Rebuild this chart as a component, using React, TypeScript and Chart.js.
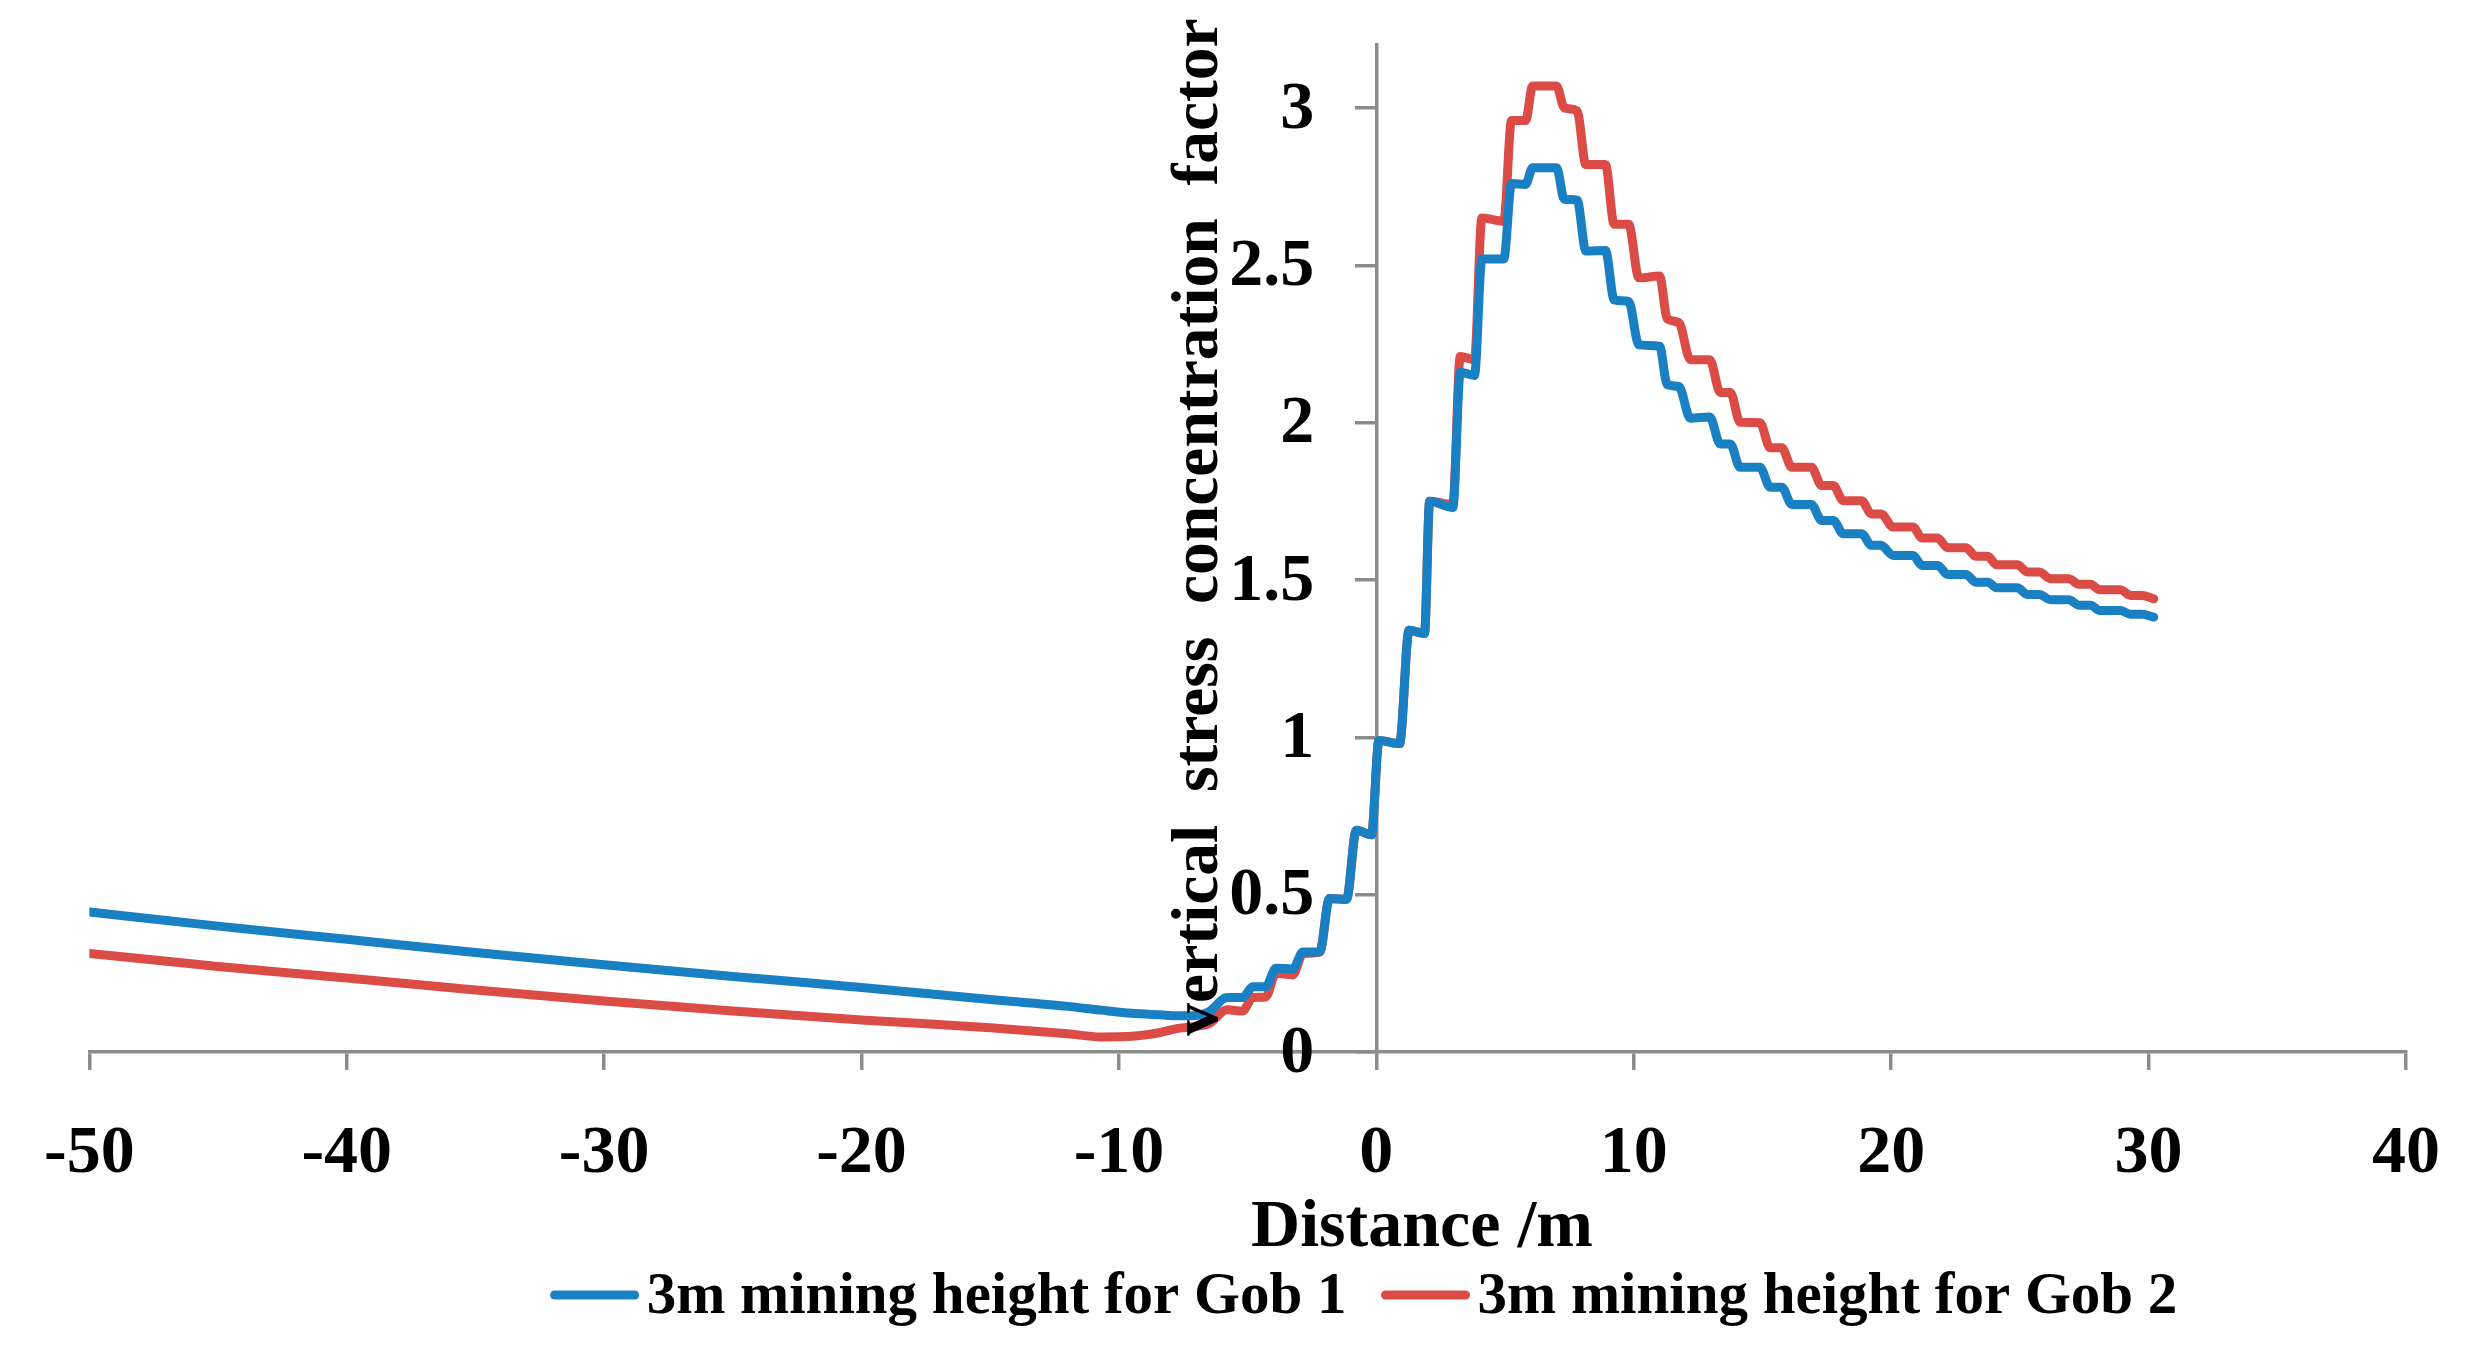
import React, { useEffect, useRef } from "react";
import { Chart, registerables, Plugin } from "chart.js";

Chart.register(...registerables);

// distance from the coal wall, m (shared by both series)
const distance = [
  -50, -45, -40, -35, -30, -25, -20, -15, -12, -10.7, -9.5, -8.4, -7.7, -7.0,
  -6.5, -5.8, -5.2, -4.8, -4.3, -3.9, -3.25, -2.85, -2.2, -1.82, -1.16, -0.78,
  -0.19, 0.1, 0.9, 1.27, 1.87, 2.07, 2.97, 3.26, 3.81, 4.1, 4.95, 5.25, 5.8,
  6.07, 7.0, 7.3, 7.8, 8.14, 8.9, 9.24, 9.8, 10.2, 11.0, 11.3, 11.75, 12.2,
  12.95, 13.36, 13.75, 14.13, 14.9, 15.3, 15.75, 16.14, 16.9, 17.3, 17.75,
  18.14, 18.85, 19.23, 19.6, 20.08, 20.85, 21.2, 21.8, 22.2, 22.9, 23.3,
  23.75, 24.1, 24.9, 25.3, 25.75, 26.2, 26.9, 27.3, 27.75, 28.1, 28.9, 29.3,
  29.75, 30.2,
];

const gob1Stress = [
  0.445, 0.4, 0.358, 0.316, 0.277, 0.24, 0.205, 0.167, 0.145, 0.133, 0.123,
  0.118, 0.115, 0.116, 0.128, 0.173, 0.173, 0.207, 0.207, 0.266, 0.264,
  0.318, 0.318, 0.488, 0.485, 0.705, 0.69, 0.99, 0.98, 1.34, 1.33, 1.75,
  1.73, 2.16, 2.15, 2.52, 2.52, 2.76, 2.757, 2.81, 2.81, 2.71, 2.707, 2.545,
  2.547, 2.39, 2.385, 2.247, 2.243, 2.12, 2.115, 2.014, 2.018, 1.932, 1.932,
  1.858, 1.858, 1.795, 1.795, 1.74, 1.74, 1.689, 1.689, 1.647, 1.647, 1.61,
  1.61, 1.578, 1.578, 1.546, 1.546, 1.517, 1.517, 1.493, 1.493, 1.475,
  1.475, 1.454, 1.454, 1.437, 1.437, 1.42, 1.42, 1.403, 1.403, 1.391, 1.391,
  1.382,
];

const gob2Stress = [
  0.313, 0.272, 0.235, 0.197, 0.162, 0.13, 0.102, 0.077, 0.058, 0.048, 0.05,
  0.062, 0.075, 0.082, 0.09, 0.134, 0.13, 0.173, 0.175, 0.25, 0.245, 0.313,
  0.318, 0.488, 0.485, 0.705, 0.69, 0.99, 0.98, 1.34, 1.33, 1.75, 1.74,
  2.21, 2.2, 2.65, 2.64, 2.96, 2.96, 3.07, 3.07, 3.0, 2.99, 2.82, 2.82,
  2.63, 2.63, 2.46, 2.466, 2.33, 2.318, 2.2, 2.2, 2.096, 2.096, 2.001, 2.0,
  1.92, 1.92, 1.858, 1.858, 1.8, 1.8, 1.752, 1.752, 1.71, 1.71, 1.668, 1.668,
  1.633, 1.633, 1.602, 1.602, 1.575, 1.575, 1.548, 1.548, 1.525, 1.525,
  1.504, 1.504, 1.486, 1.486, 1.469, 1.469, 1.451, 1.451, 1.44,
];

const seriesLabels = ["3m mining height for Gob 1", "3m mining height for Gob 2"];
const seriesColors = ["#1a80c4", "#dc4c47"];
const xTitle = "Distance /m";
const yTitle = "vertical  stress  concentration  factor";

const FONT = '"Liberation Serif", "Times New Roman", serif';
const AXIS_GREY = "#8c8c8c";

const textPlugin: Plugin<"line"> = {
  id: "textPlugin",
  afterDatasetsDraw(chart) {
    const { ctx } = chart;
    const yScale = chart.scales.y;
    const axisX = chart.scales.x.getPixelForValue(0);

    // y tick labels, left of the tick marks (axis sits at x = 0)
    ctx.save();
    ctx.fillStyle = "#000";
    ctx.font = `bold 68px ${FONT}`;
    ctx.textAlign = "right";
    ctx.textBaseline = "middle";
    yScale.ticks.forEach((t) => {
      ctx.fillText(String(t.value), axisX - 62, yScale.getPixelForValue(t.value) + 2);
    });
    ctx.restore();

    // y axis title, reading bottom to top
    ctx.save();
    ctx.fillStyle = "#000";
    ctx.font = `bold 65.5px ${FONT}`;
    ctx.textAlign = "center";
    ctx.textBaseline = "alphabetic";
    ctx.translate(1217, 527);
    ctx.rotate(-Math.PI / 2);
    ctx.fillText(yTitle, 0, 0);
    ctx.restore();

    // x axis title
    ctx.save();
    ctx.fillStyle = "#000";
    ctx.font = `bold 68px ${FONT}`;
    ctx.textAlign = "center";
    ctx.textBaseline = "alphabetic";
    ctx.fillText(xTitle, 1422, 1246);
    ctx.restore();

    // legend
    ctx.save();
    ctx.font = `bold 59px ${FONT}`;
    ctx.textBaseline = "alphabetic";
    ctx.textAlign = "left";
    const lineLen = 88;
    const gap = 8;
    const itemGap = 35;
    const widths = seriesLabels.map((t) => ctx.measureText(t).width);
    const total =
      widths.reduce((a, w) => a + w + lineLen + gap, 0) + itemGap;
    let x = 1364 - total / 2;
    seriesLabels.forEach((label, i) => {
      ctx.strokeStyle = seriesColors[i];
      ctx.lineWidth = 9;
      ctx.lineCap = "round";
      ctx.beginPath();
      ctx.moveTo(x + 4, 1295);
      ctx.lineTo(x + lineLen - 4, 1295);
      ctx.stroke();
      x += lineLen + gap;
      ctx.fillStyle = "#000";
      ctx.fillText(label, x, 1313);
      x += widths[i] + itemGap;
    });
    ctx.restore();
  },
};

export default function App() {
  const canvasRef = useRef<HTMLCanvasElement | null>(null);

  useEffect(() => {
    const ctx = canvasRef.current?.getContext("2d");
    if (!ctx) return;

    const datasets = [gob1Stress, gob2Stress].map((values, i) => ({
      label: seriesLabels[i],
      data: distance.map((d, j) => ({ x: d, y: values[j] })),
      borderColor: seriesColors[i],
      backgroundColor: seriesColors[i],
      borderWidth: 9,
      pointRadius: 0,
      cubicInterpolationMode: "monotone" as const,
      borderJoinStyle: "round" as const,
      borderCapStyle: "round" as const,
    }));

    const chart = new Chart(ctx, {
      type: "line",
      data: { datasets },
      options: {
        animation: false,
        responsive: true,
        maintainAspectRatio: false,
        layout: { padding: { left: 87, right: 75, top: 45, bottom: 0 } },
        plugins: {
          legend: { display: false },
          tooltip: { enabled: false },
        },
        scales: {
          x: {
            type: "linear",
            min: -50,
            max: 40,
            ticks: {
              stepSize: 10,
              color: "#000",
              padding: 44,
              font: { family: FONT, size: 68, weight: "bold" },
            },
            grid: {
              drawOnChartArea: false,
              drawTicks: true,
              tickLength: 18,
              color: AXIS_GREY,
              lineWidth: 3.5,
            },
            border: { display: true, color: AXIS_GREY, width: 3.5 },
            afterFit(scale) {
              scale.height = 309;
            },
          },
          y: {
            type: "linear",
            position: { x: 0 },
            min: 0,
            max: 3.2,
            ticks: {
              stepSize: 0.5,
              includeBounds: false,
              display: false,
            },
            grid: {
              drawOnChartArea: false,
              drawTicks: true,
              tickLength: 20,
              color: AXIS_GREY,
              lineWidth: 3.5,
            },
            border: { display: true, color: AXIS_GREY, width: 3.5 },
          },
        },
      },
      plugins: [textPlugin],
    });

    return () => {
      chart.destroy();
    };
  }, []);

  return (
    <div
      style={{
        position: "absolute",
        left: 0,
        top: 0,
        width: "2484px",
        height: "1361px",
        background: "#fff",
      }}
    >
      <canvas ref={canvasRef} />
    </div>
  );
}
